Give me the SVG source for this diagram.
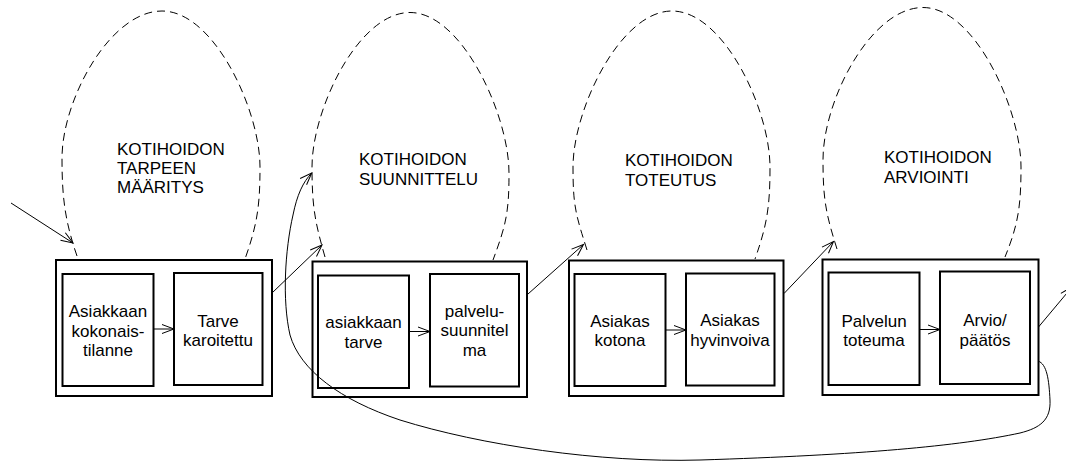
<svg xmlns="http://www.w3.org/2000/svg" width="1066" height="461" viewBox="0 0 1066 461">
<style>
.box{fill:#fff;stroke:#000;stroke-width:2}
.loop{fill:none;stroke:#000;stroke-width:1;stroke-dasharray:8 5}
.con{fill:none;stroke:#000;stroke-width:1}
.arr{marker-end:url(#ah)}
text{font-family:"Liberation Sans",Arial,sans-serif;font-size:17px;fill:#000}
.c{text-anchor:middle}
</style>
<defs>
<marker id="ah" markerUnits="userSpaceOnUse" markerWidth="14" markerHeight="10" refX="12" refY="4.5" orient="auto" overflow="visible">
<path d="M0,0 L12,4.5 L0,9" fill="none" stroke="#000" stroke-width="1"/>
</marker>
</defs>
<rect width="1066" height="461" fill="#fff"/>

<g id="loop1">
<path class="loop" d="M77,256 C65,221 62,198 62,158 C62,100 110,11 162,11 C214,11 260,110 260,167 C260,207 257,225 245,259"/>
<text x="117" y="155">KOTIHOIDON</text>
<text x="117" y="174">TARPEEN</text>
<text x="117" y="193">MÄÄRITYS</text>
</g>
<g id="loop2">
<path class="loop" d="M325,257 C315,222 312,207 312,167 C312,110 358,12.5 410,12.5 C462,12.5 509,115 509,173 C509,213 506,225 493,260"/>
<text x="359" y="165">KOTIHOIDON</text>
<text x="359" y="185">SUUNNITTELU</text>
</g>
<g id="loop3">
<path class="loop" d="M587,250 C576,215 573,207 573,167 C573,110 620,11 672,11 C724,11 770,110 770,167 C770,207 767,225 755,259"/>
<text x="625" y="166">KOTIHOIDON</text>
<text x="625" y="185.5">TOTEUTUS</text>
</g>
<g id="loop4">
<path class="loop" d="M837,249 C826,214 823,200 823,160 C823,100 871,7.5 923,7.5 C975,7.5 1021,110 1021,167 C1021,207 1018,225 1005,257"/>
<text x="884" y="163">KOTIHOIDON</text>
<text x="884" y="182.5">ARVIOINTI</text>
</g>

<g id="node1">
<rect class="box" x="56" y="260" width="216" height="136"/>
<g id="node1a">
<rect class="box" x="62.5" y="274" width="91" height="112"/>
<text class="c" x="108" y="317">Asiakkaan</text>
<text class="c" x="108" y="336.5">kokonais-</text>
<text class="c" x="108" y="356">tilanne</text>
</g>
<g id="node1b">
<rect class="box" x="174" y="273" width="88.5" height="112"/>
<text class="c" x="218" y="326.5">Tarve</text>
<text class="c" x="218" y="346">karoitettu</text>
</g>
</g>

<g id="node2">
<rect class="box" x="312.5" y="261.5" width="214.5" height="135.5"/>
<g id="node2a">
<rect class="box" x="318" y="275.5" width="91" height="112.5"/>
<text class="c" x="363.5" y="328">asiakkaan</text>
<text class="c" x="363.5" y="347.5">tarve</text>
</g>
<g id="node2b">
<rect class="box" x="430" y="274" width="89" height="112.5"/>
<text class="c" x="474.5" y="316.5">palvelu-</text>
<text class="c" x="474.5" y="336">suunnitel</text>
<text class="c" x="474.5" y="355.5">ma</text>
</g>
</g>

<g id="node3">
<rect class="box" x="569" y="260.5" width="214.5" height="135.5"/>
<g id="node3a">
<rect class="box" x="574.5" y="274" width="91" height="112"/>
<text class="c" x="620" y="326.5">Asiakas</text>
<text class="c" x="620" y="346">kotona</text>
</g>
<g id="node3b">
<rect class="box" x="686" y="273.5" width="88.5" height="112"/>
<text class="c" x="730" y="326">Asiakas</text>
<text class="c" x="730" y="345.5">hyvinvoiva</text>
</g>
</g>

<g id="node4">
<rect class="box" x="822.5" y="259.5" width="216" height="135.5"/>
<g id="node4a">
<rect class="box" x="828.5" y="272.5" width="91" height="112.5"/>
<text class="c" x="874" y="326.5">Palvelun</text>
<text class="c" x="874" y="346">toteuma</text>
</g>
<g id="node4b">
<rect class="box" x="940" y="271.5" width="90" height="112.5"/>
<text class="c" x="985" y="326">Arvio/</text>
<text class="c" x="985" y="345.5">päätös</text>
</g>
</g>

<g id="connectors">
<line class="con arr" x1="11" y1="203" x2="73" y2="243"/>
<line class="con arr" x1="153.5" y1="329" x2="174" y2="329"/>
<line class="con arr" x1="409" y1="331.5" x2="430" y2="331.5"/>
<line class="con arr" x1="665.5" y1="330" x2="686" y2="330"/>
<line class="con arr" x1="919.5" y1="329.5" x2="940" y2="329.5"/>
<line class="con arr" x1="272" y1="293" x2="322" y2="245"/>
<line class="con arr" x1="528" y1="294" x2="583.5" y2="244.5"/>
<line class="con arr" x1="784" y1="293.5" x2="833.5" y2="241.5"/>
<line class="con arr" x1="1038.5" y1="327" x2="1072" y2="287"/>
<path class="con arr" d="M1038,361 C1047,364 1049,380 1050,400 C1051,420 1040,428 1020,433 C960,446 860,455 700,460 C600,463 480,445 400,420 C340,400 300,370 290,335 C282,300 285,250 293,215 C297,195 303,182 311.7,173"/>
</g>
</svg>
